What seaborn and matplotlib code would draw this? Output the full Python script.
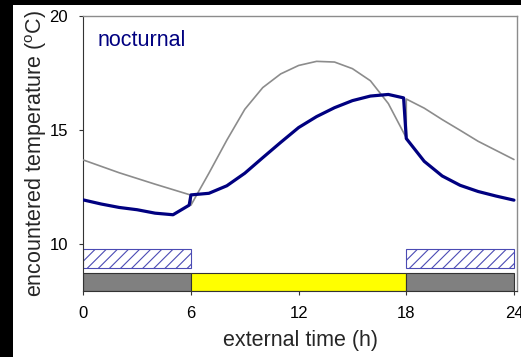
import matplotlib
matplotlib.use("Agg")
import matplotlib.pyplot as plt
from matplotlib.patches import Rectangle
import seaborn as sns
import pandas as pd

sns.set_style("white")
plt.rcParams["font.family"] = ["Liberation Sans", "DejaVu Sans"]
plt.rcParams["hatch.linewidth"] = 0.8

# External (ambient) temperature: night curve, day curve, night curve
ext_time = [0, 1, 2, 3, 4, 5, 6,
            6, 7, 8, 9, 10, 11, 12, 13, 14, 15, 16, 17, 18,
            18, 19, 20, 21, 22, 23, 24]
ext_temp = [13.68, 13.40, 13.12, 12.87, 12.62, 12.38, 12.14,
            11.70, 13.10, 14.55, 15.90, 16.85, 17.45, 17.82, 18.00, 17.97, 17.68, 17.15, 16.15, 14.65,
            16.35, 15.95, 15.45, 14.98, 14.50, 14.10, 13.70]

# Temperature encountered by the nocturnal animal
enc_time = [0, 1, 2, 3, 4, 5, 5.9,
            6, 7, 8, 9, 10, 11, 12, 13, 14, 15, 16, 17, 17.85,
            18, 19, 20, 21, 22, 23, 24]
enc_temp = [11.93, 11.75, 11.60, 11.50, 11.35, 11.28, 11.70,
            12.15, 12.22, 12.55, 13.10, 13.78, 14.45, 15.10, 15.58, 15.97, 16.28, 16.48, 16.55, 16.40,
            14.62, 13.62, 12.98, 12.57, 12.30, 12.10, 11.92]

# Light regime bar (dark / light / dark) and activity bars
phase_start = [0, 6, 18]
phase_width = [6, 12, 6]
phase_color = ["#808080", "#ffff00", "#808080"]
active_start = [0, 18]
active_width = [6, 6]

xticks = [0, 6, 12, 18, 24]
yticks = [10, 15, 20]

fig = plt.figure(figsize=(5.21, 3.57), dpi=100)
fig.patch.set_facecolor("black")
fig.add_artist(Rectangle((13 / 521, 0), 1 - 13 / 521, 1 - 5 / 357,
                         transform=fig.transFigure, facecolor="white",
                         edgecolor="none", zorder=0))
ax = fig.add_axes([83.3 / 521, 1 - 291 / 357, (517 - 83.3) / 521, (291 - 15.7) / 357])
ax.set_facecolor("white")

ymin = 7.94
# light regime bar
ax.bar(phase_start, [8.74 - ymin] * 3, width=phase_width, bottom=ymin, align="edge",
       color=phase_color, edgecolor="#333333", linewidth=0.8, zorder=2)
# activity (hatched) bars
ax.bar(active_start, [9.77 - 8.93] * 2, width=active_width, bottom=8.93, align="edge",
       facecolor="white", edgecolor="#4b4bb4", hatch="///", linewidth=0.8, zorder=2)

ext_df = pd.DataFrame({"time": ext_time, "temp": ext_temp})
enc_df = pd.DataFrame({"time": enc_time, "temp": enc_temp})
sns.lineplot(data=ext_df, x="time", y="temp", sort=False, estimator=None,
             color="#8c8c8c", linewidth=1.2, ax=ax, zorder=3)
sns.lineplot(data=enc_df, x="time", y="temp", sort=False, estimator=None,
             color="#000080", linewidth=2.3, ax=ax, zorder=4)

ax.set_xlim(0, 24.17)
ax.set_ylim(ymin, 20)
ax.set_xticks(xticks)
ax.set_yticks(yticks)
ax.tick_params(axis="both", direction="out", length=3, width=0.8, color="#333333",
               labelsize=12, pad=8, labelcolor="black")
ax.tick_params(axis="x", bottom=True)
ax.tick_params(axis="y", left=True)

for side in ["top", "right"]:
    ax.spines[side].set_color("#8c8c8c")
    ax.spines[side].set_linewidth(1.0)
for side in ["left", "bottom"]:
    ax.spines[side].set_color("#333333")
    ax.spines[side].set_linewidth(0.8)

ax.set_xlabel("external time (h)", fontsize=15.5, labelpad=6)
ax.set_ylabel(r"encountered temperature ($^\mathregular{o}$C)", fontsize=15.5, labelpad=0.5)

ax.text(0.032, 0.891, "nocturnal", transform=ax.transAxes, fontsize=15.5,
        color="#000080", ha="left", va="baseline")

fig.savefig("out.png", dpi=100, facecolor=fig.get_facecolor())
